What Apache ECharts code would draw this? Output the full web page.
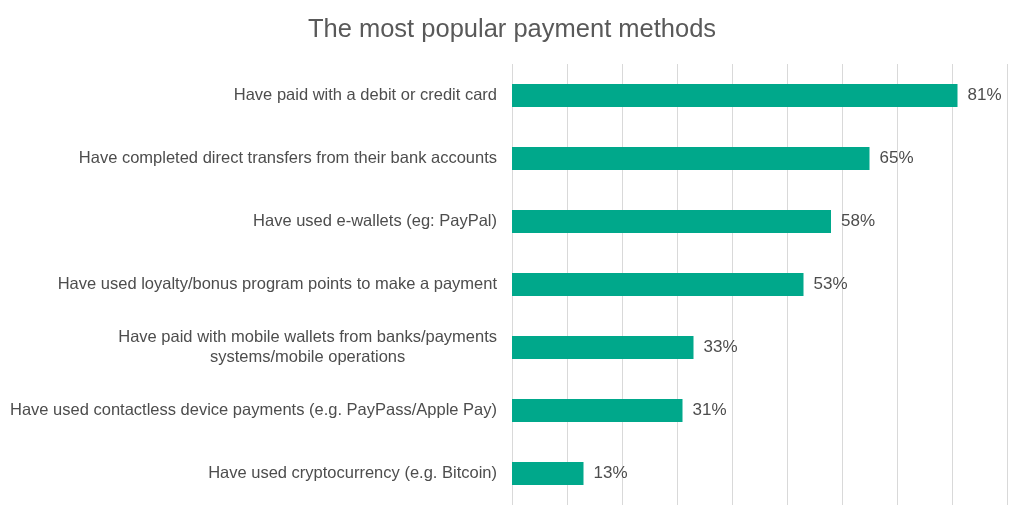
<!DOCTYPE html>
<html><head><meta charset="utf-8">
<script src="https://cdn.jsdelivr.net/npm/echarts@6/dist/echarts.min.js"></script>
<style>html,body{margin:0;padding:0;background:#fff}#c{width:1024px;height:525px}</style>
</head><body><div id="c"></div>
<script>
const title = 'The most popular payment methods';
const categories = [
  'Have paid with a debit or credit card',
  'Have completed direct transfers from their bank accounts',
  'Have used e-wallets (eg: PayPal)',
  'Have used loyalty/bonus program points to make a payment',
  'Have paid with mobile wallets from banks/payments\nsystems/mobile operations',
  'Have used contactless device payments (e.g. PayPass/Apple Pay)',
  'Have used cryptocurrency (e.g. Bitcoin)'
];
const values = [81, 65, 58, 53, 33, 31, 13];

const chart = echarts.init(document.getElementById('c'));
chart.setOption({
  animation: false,
  title: {text: title, left: 'center', top: 12,
    textStyle: {fontFamily: 'Liberation Sans', fontSize: 25.5, fontWeight: 'normal', color: '#595959'}},
  grid: {left: 512, right: 17, top: 64, bottom: 20, containLabel: false},
  xAxis: {type: 'value', min: 0, max: 90, interval: 10,
    axisLabel: {show: false}, axisLine: {show: false}, axisTick: {show: false},
    splitLine: {lineStyle: {color: '#d9d9d9', width: 1}}},
  yAxis: {type: 'category', inverse: true, data: categories,
    axisLine: {show: false}, axisTick: {show: false},
    axisLabel: {margin: 15, color: '#4d4d4d', fontFamily: 'Liberation Sans', fontSize: 16.5, lineHeight: 20,
      formatter: v => v.split('\n').map(s => '{a|' + s + '}').join('\n'),
      rich: {a: {align: 'center', color: '#4d4d4d', fontFamily: 'Liberation Sans', fontSize: 16.5, lineHeight: 20}}}},
  series: [{type: 'bar', data: values, barWidth: 23,
    itemStyle: {color: '#00A88B'},
    label: {show: true, position: 'right', distance: 10, formatter: '{c}%',
      color: '#4d4d4d', fontFamily: 'Liberation Sans', fontSize: 17}}]
});
</script></body></html>
